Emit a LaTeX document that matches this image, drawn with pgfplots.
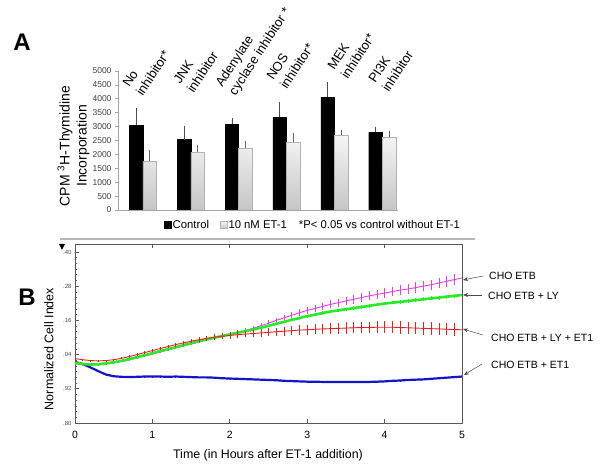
\documentclass[border=0pt]{standalone}
\usepackage{fontspec}
\setmainfont{Liberation Sans}
\usepackage{pgfplots}
\pgfplotsset{compat=1.18}
\usepackage{pgfplotstable}
\usetikzlibrary{arrows.meta}

\definecolor{cblue}{RGB}{20,20,200}
\definecolor{cred}{RGB}{235,30,30}
\definecolor{cgreen}{RGB}{40,235,40}
\definecolor{cmag}{RGB}{235,60,235}

\pgfplotstableread{
x ctrl ctrlerr et eterr
0 3050 530 1750 320
1 2530 430 2070 190
2 3090 150 2220 180
3 3340 470 2430 260
4 4060 460 2690 120
5 2790 140 2630 150
}\dataA

\pgfplotstableread{
t blue be red re green ge mag me
0.0 1.014 0.003 1.026 0.003 1.011 0.003 1.008 0.002
0.1 1.007 0.003 1.022 0.003 1.007 0.003 1.005 0.002
0.2 0.995 0.003 1.019 0.003 1.005 0.003 1.004 0.002
0.3 0.982 0.003 1.018 0.003 1.006 0.003 1.005 0.002
0.4 0.970 0.003 1.019 0.003 1.009 0.003 1.008 0.002
0.5 0.964 0.003 1.022 0.003 1.013 0.003 1.012 0.002
0.6 0.962 0.003 1.027 0.004 1.018 0.003 1.016 0.002
0.7 0.961 0.003 1.033 0.004 1.024 0.003 1.022 0.002
0.8 0.962 0.003 1.040 0.004 1.031 0.003 1.028 0.002
0.9 0.963 0.003 1.047 0.005 1.038 0.003 1.035 0.002
1.0 0.963 0.003 1.054 0.005 1.045 0.003 1.042 0.003
1.1 0.963 0.003 1.061 0.006 1.052 0.003 1.049 0.003
1.2 0.962 0.003 1.068 0.006 1.059 0.003 1.056 0.003
1.3 0.963 0.003 1.075 0.007 1.066 0.004 1.063 0.003
1.4 0.962 0.003 1.081 0.007 1.073 0.004 1.070 0.004
1.5 0.961 0.003 1.087 0.008 1.080 0.004 1.077 0.004
1.6 0.960 0.003 1.092 0.008 1.087 0.004 1.084 0.005
1.7 0.960 0.003 1.097 0.009 1.093 0.004 1.091 0.005
1.8 0.959 0.003 1.101 0.010 1.099 0.004 1.098 0.006
1.9 0.957 0.003 1.104 0.010 1.105 0.004 1.105 0.006
2.0 0.956 0.003 1.107 0.011 1.111 0.004 1.112 0.007
2.1 0.955 0.003 1.110 0.012 1.117 0.004 1.118 0.007
2.2 0.954 0.003 1.112 0.012 1.122 0.005 1.124 0.008
2.3 0.953 0.003 1.114 0.013 1.128 0.005 1.132 0.008
2.4 0.952 0.003 1.116 0.013 1.134 0.005 1.141 0.009
2.5 0.951 0.003 1.118 0.014 1.141 0.005 1.150 0.010
2.6 0.950 0.003 1.120 0.015 1.148 0.005 1.160 0.010
2.7 0.948 0.003 1.122 0.016 1.155 0.005 1.169 0.011
2.8 0.947 0.003 1.124 0.016 1.162 0.005 1.178 0.011
2.9 0.946 0.003 1.126 0.017 1.168 0.005 1.187 0.012
3.0 0.945 0.003 1.127 0.018 1.175 0.005 1.195 0.012
3.1 0.945 0.003 1.129 0.018 1.180 0.005 1.202 0.013
3.2 0.944 0.003 1.130 0.019 1.186 0.006 1.209 0.013
3.3 0.944 0.003 1.131 0.019 1.191 0.006 1.216 0.014
3.4 0.944 0.003 1.132 0.020 1.195 0.006 1.222 0.014
3.5 0.944 0.003 1.133 0.020 1.199 0.006 1.228 0.014
3.6 0.944 0.003 1.134 0.020 1.203 0.006 1.234 0.015
3.7 0.944 0.003 1.135 0.021 1.207 0.006 1.240 0.015
3.8 0.944 0.003 1.135 0.021 1.211 0.006 1.246 0.016
3.9 0.945 0.003 1.136 0.021 1.215 0.006 1.251 0.016
4.0 0.946 0.003 1.136 0.021 1.219 0.006 1.256 0.016
4.1 0.948 0.003 1.136 0.022 1.222 0.006 1.261 0.017
4.2 0.949 0.003 1.135 0.022 1.225 0.006 1.266 0.017
4.3 0.951 0.003 1.134 0.022 1.228 0.007 1.270 0.017
4.4 0.952 0.003 1.133 0.022 1.231 0.007 1.275 0.018
4.5 0.953 0.003 1.132 0.022 1.234 0.007 1.280 0.018
4.6 0.955 0.003 1.131 0.022 1.237 0.007 1.285 0.018
4.7 0.957 0.003 1.130 0.022 1.240 0.007 1.291 0.019
4.8 0.959 0.003 1.129 0.022 1.243 0.007 1.297 0.019
4.9 0.961 0.003 1.128 0.022 1.246 0.007 1.303 0.019
5.0 0.963 0.003 1.127 0.022 1.249 0.007 1.309 0.019
}\dataB

\begin{document}
\begin{tikzpicture}
\useasboundingbox (0pt,0pt) rectangle (600pt,468pt);

% ---------------- Panel A ----------------
\begin{axis}[
  at={(118pt,258pt)}, anchor=south west,
  scale only axis, width=280pt, height=139pt,
  xmin=-0.52, xmax=5.33, ymin=0, ymax=5000,
  axis x line*=bottom, axis y line*=left,
  axis line style={gray!70, line width=0.6pt},
  xtick=\empty,
  ytick={0,500,...,5000},
  ytick style={gray!70, line width=0.6pt},
  tick align=outside, major tick length=3pt,
  yticklabel style={font=\fontsize{8.5}{10}\selectfont, text=black!75},
  /pgf/number format/assume math mode=true,
  /pgf/number format/1000 sep={},
  ybar=0pt, bar width=13.5pt,
  legend columns=3,
  legend style={draw=none, fill=none, at={(0.697,-0.108)}, anchor=center,
    font=\fontsize{11.3}{14}\selectfont, inner xsep=0pt,
    /tikz/every even column/.append style={column sep=9pt},
    /tikz/every odd column/.append style={column sep=-1pt}},
  legend image code/.code={\fill[#1] (0pt,-3.5pt) rectangle (7pt,3.5pt);},
]
\addplot[fill=black, draw=black,
  error bars/.cd, y dir=plus, y explicit,
  error bar style={black!70, line width=0.6pt},
  error mark options={black!70, mark size=2pt, line width=0.6pt}]
  table[x=x, y=ctrl, y error=ctrlerr] {\dataA};
\addlegendentry{Control}
\addplot[draw=gray!60, top color=gray!8, bottom color=gray!45,
  error bars/.cd, y dir=plus, y explicit,
  error bar style={black!60, line width=0.6pt},
  error mark options={black!60, mark size=2pt, line width=0.6pt}]
  table[x=x, y=et, y error=eterr] {\dataA};
\addlegendentry{10 nM ET-1}
\addlegendimage{empty legend}
\addlegendentry{*P< 0.05 vs control without ET-1}
\end{axis}

% category labels
\begin{scope}[every node/.style={rotate=57, anchor=south west, align=left, inner sep=0pt, font=\fontsize{13}{16}\selectfont}]
\node at (143pt,371pt) {No\\inhibitor*};
\node at (194pt,374pt) {JNK\\inhibitor};
\node at (238pt,370pt) {Adenylate\\cyclase inhibitor *};
\node at (287pt,378pt) {NOS\\inhibitor*};
\node at (348pt,388pt) {MEK\\inhibitor*};
\node at (389pt,375pt) {PI3K\\inhibitor};
\end{scope}

\node[rotate=90, align=center, font=\fontsize{14}{17}\selectfont] at (73.5pt,322pt)
  {CPM \textsuperscript{3}H-Thymidine\\Incorporation};
\node[font=\fontsize{24}{26}\selectfont\bfseries] at (22pt,426pt) {A};

% separator
\draw[gray!55, line width=2pt] (60pt,229pt) -- (475pt,229pt);

% ---------------- Panel B ----------------
\begin{axis}[
  at={(75pt,45pt)}, anchor=south west,
  scale only axis, width=387pt, height=179pt,
  xmin=0, xmax=5, ymin=0.80, ymax=1.428,
  axis line style={black!65, line width=0.7pt},
  xtick={0,1,2,3,4,5}, xtick pos=both, xticklabel pos=left,
  ytick={0.80,0.92,1.04,1.16,1.28,1.40},
  yticklabels={.80,.92,.04,.16,.28,.40},
  ytick pos=left, minor y tick num=5,
  tick align=inside, major tick length=4pt, minor tick length=2pt,
  tick style={black!65, line width=0.6pt},
  yticklabel style={font=\fontsize{6}{7}\selectfont, text=black!70},
  xticklabel style={font=\fontsize{10.5}{12}\selectfont, yshift=-5pt},
  /pgf/number format/assume math mode=true,
]
\addplot[cblue, line width=2.2pt,
  error bars/.cd, y dir=both, y explicit, error mark=none,
  error bar style={cblue, line width=0.5pt}]
  table[x=t, y=blue, y error=be] {\dataB};
\addplot[cmag, line width=0.9pt,
  error bars/.cd, y dir=both, y explicit, error mark=none,
  error bar style={cmag, line width=0.5pt}]
  table[x=t, y=mag, y error=me] {\dataB};
\addplot[cgreen, line width=2.6pt,
  error bars/.cd, y dir=both, y explicit, error mark=none,
  error bar style={cgreen, line width=0.5pt}]
  table[x=t, y=green, y error=ge] {\dataB};
\addplot[cred, line width=0.9pt,
  error bars/.cd, y dir=both, y explicit, error mark=none,
  error bar style={cred, line width=0.5pt}]
  table[x=t, y=red, y error=re] {\dataB};
\end{axis}

\fill[black] (59pt,224pt) -- (65pt,224pt) -- (62pt,218pt) -- cycle;
\node[font=\fontsize{24}{26}\selectfont\bfseries] at (27pt,171pt) {B};
\node[rotate=90, font=\fontsize{12.5}{14}\selectfont] at (49pt,119pt) {Normalized Cell Index};
\node[font=\fontsize{12.4}{14}\selectfont] at (268pt,13pt) {Time (in Hours after ET-1 addition)};

% annotations
\begin{scope}[every node/.style={anchor=west, inner sep=0pt, font=\fontsize{10.5}{12}\selectfont}]
\node at (489pt,192pt) {CHO ETB};
\node at (488pt,172pt) {CHO ETB + LY};
\node at (491pt,130pt) {CHO ETB + LY + ET1};
\node at (491pt,103pt) {CHO ETB + ET1};
\end{scope}
\begin{scope}[black!70, line width=0.5pt, -{Stealth[length=5pt,width=4pt]}]
\draw (483pt,192pt) -- (463pt,188pt);
\draw (482pt,173pt) -- (463pt,173pt);
\draw (483pt,133pt) -- (463pt,139pt);
\draw (482pt,104pt) -- (464pt,93pt);
\end{scope}
\end{tikzpicture}
\end{document}
